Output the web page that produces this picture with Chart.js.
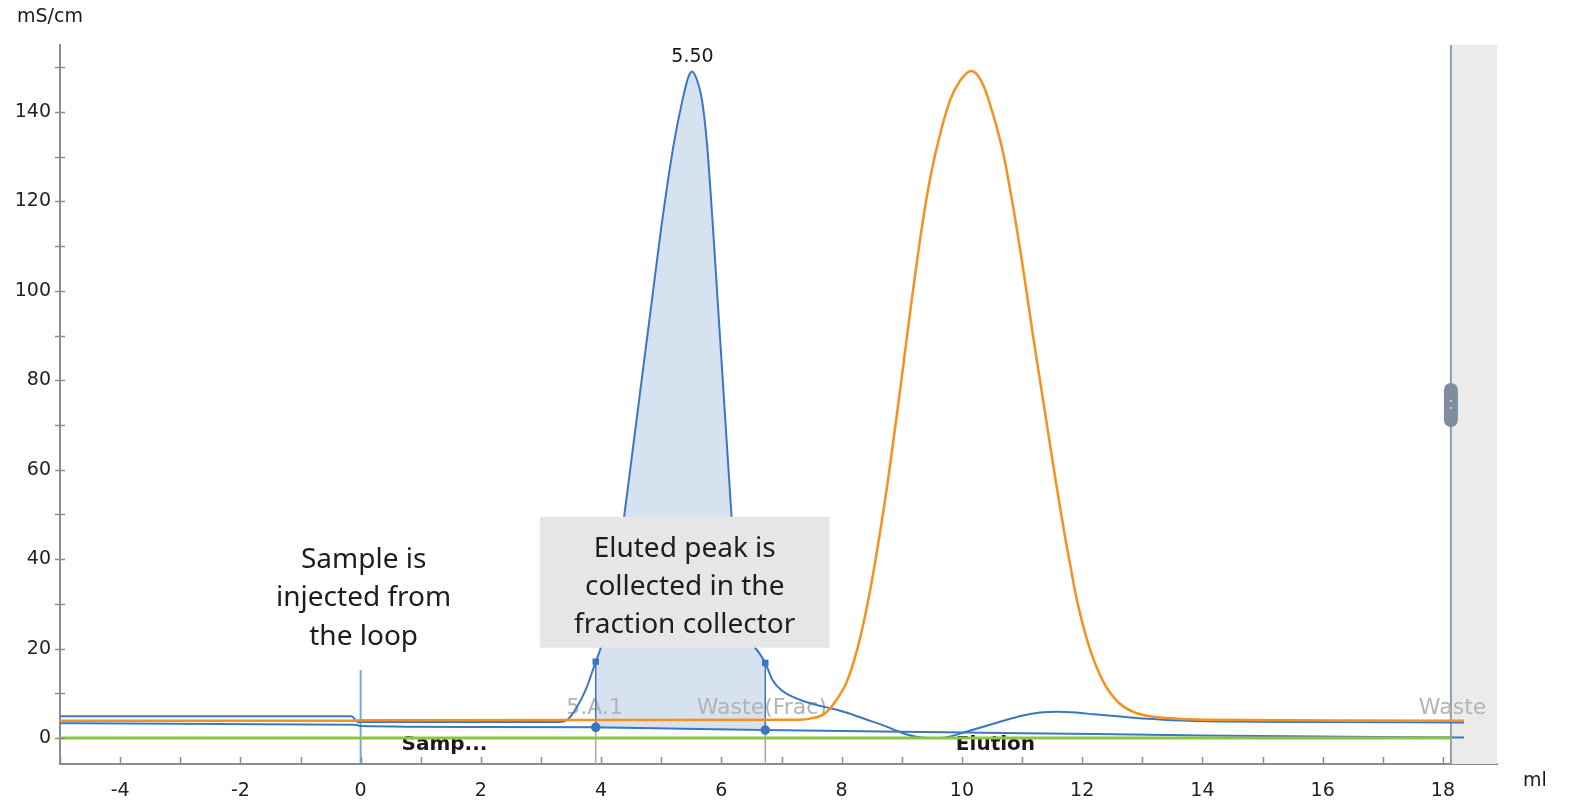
<!DOCTYPE html>
<html>
<head>
<meta charset="utf-8">
<script src="https://cdn.jsdelivr.net/npm/chart.js@4.4.1/dist/chart.umd.min.js"></script>
<style>
  html, body { margin: 0; padding: 0; background: #fff; }
  #wrap { width: 1570px; height: 801px; }
</style>
</head>
<body>
<div id="wrap"><canvas id="myChart" width="1570" height="801"></canvas></div>
<script>
// eixo x em ml, eixo y em mS/cm
const xMin = -5, xMax = 18.9;
const yMin = -5.8, yMax = 155;
const panelStart = 18.15;
const xTicks = [-5, -4, -3, -2, -1, 0, 1, 2, 3, 4, 5, 6, 7, 8, 9, 10, 11, 12, 13, 14, 15, 16, 17, 18];
const yTicks = [0, 10, 20, 30, 40, 50, 60, 70, 80, 90, 100, 110, 120, 130, 140, 150];

// curva azul principal (pico em 5.50 ml)
const blueX = [-5, -0.15, -0.05, 3.3, 3.45, 3.6, 3.75, 3.91, 4.0, 4.2, 4.38, 4.46, 4.64, 4.82, 5.0, 5.21, 5.35, 5.45, 5.51, 5.6, 5.68, 5.76, 5.86, 5.95, 6.04, 6.13, 6.2, 6.28, 6.38, 6.5, 6.63, 6.73, 6.85, 7.0, 7.3, 7.58, 7.9, 8.13, 8.4, 8.68, 9.0, 9.24, 9.5, 9.75, 10.07, 10.4, 10.62, 11.0, 11.3, 11.6, 11.9, 12.2, 12.8, 13.5, 14.25, 16, 18.35];
const blueY = [4.9, 4.9, 3.6, 3.6, 4.2, 7, 11, 17.1, 20.5, 33, 49.3, 57.6, 76.5, 95.3, 114.2, 133, 142.5, 147.8, 149.1, 147, 142.5, 133, 114.2, 95.3, 76.5, 57.6, 44, 33, 26, 21.5, 19, 16.8, 13, 10.7, 8.6, 7.4, 6.4, 5.5, 4.2, 2.9, 1.2, 0.3, 0, 0.2, 1.4, 2.7, 3.6, 5.0, 5.7, 5.9, 5.7, 5.3, 4.6, 4.0, 3.7, 3.6, 3.5];

// curva laranja
const orangeX = [-5, -0.1, 0, 7.3, 7.5, 7.7, 7.88, 8.08, 8.26, 8.42, 8.55, 8.665, 8.77, 8.865, 8.96, 9.05, 9.14, 9.235, 9.335, 9.45, 9.6, 9.8, 9.97, 10.15, 10.3, 10.45, 10.65, 10.79, 10.91, 11.02, 11.125, 11.23, 11.34, 11.45, 11.56, 11.675, 11.8, 11.94, 12.13, 12.36, 12.61, 12.9, 13.3, 14, 18.35];
const orangeY = [3.9, 3.9, 4.0, 4.1, 4.4, 5.3, 7.9, 12.4, 19.9, 29.3, 38.8, 48.2, 57.6, 67, 76.5, 85.9, 95.3, 104.8, 114.2, 123.6, 133, 142.5, 147, 149.2, 147.5, 142.5, 133, 123.6, 114.2, 104.8, 95.3, 85.9, 76.5, 67, 57.6, 48.2, 38.8, 29.3, 19.9, 12.4, 7.9, 5.6, 4.6, 4.1, 3.9];

// linha azul baixa
const lowX = [-5, -0.1, 0, 2, 3.91, 6.73, 9, 11, 14, 18.35];
const lowY = [3.3, 3.0, 2.7, 2.5, 2.4, 1.8, 1.4, 1.1, 0.6, 0.1];

// linha verde
const greenX = [-5, 18.15];
const greenY = [0, 0];

// fracoes
const fracX = [3.91, 6.73];
const fracTop = [17.1, 16.8];
const fracLow = [2.4, 1.8];
const fracNames = ['5.A.1', 'Waste(Frac)', 'Waste'];
const fracNameX = [3.42, 5.59, 17.6];
const fracNameY = 6.6;

// blocos
const phaseNames = ['Samp...', 'Elution'];
const phaseX = [0.68, 9.9];
const phaseY = -1.6;

const injectionX = 0;
const injectionTop = 15.2;
const peakLabel = '5.50';
const peakX = 5.52;

function pts(xs, ys) {
    let out = [];
    for (let i = 0; i < xs.length; i++) out.push({ x: xs[i], y: ys[i] });
    return out;
}

const blueColor = '#3b76c4';
const fillPts = pts(blueX, blueY).filter(p => p.x >= fracX[0] && p.x <= fracX[1]);

let datasets = [
    { data: pts(greenX, greenY), borderColor: '#8cc63f', borderWidth: 3, pointRadius: 0 },
    { data: pts(orangeX, orangeY), borderColor: '#f7901e', borderWidth: 2.5, pointRadius: 0, tension: 0.4 },
    { data: pts(blueX, blueY), borderColor: blueColor, borderWidth: 2, pointRadius: 0, cubicInterpolationMode: 'monotone' },
    { data: pts(lowX, lowY), borderColor: blueColor, borderWidth: 2, pointRadius: 0, cubicInterpolationMode: 'monotone' },
    { data: [{ x: injectionX, y: yMin }, { x: injectionX, y: injectionTop }], borderColor: '#7ba5da', borderWidth: 2, pointRadius: 0 }
];
for (let i = 0; i < fracX.length; i++) {
    datasets.push({
        data: [{ x: fracX[i], y: fracLow[i] }, { x: fracX[i], y: fracTop[i] }],
        borderColor: blueColor, borderWidth: 1.5,
        pointStyle: ['circle', 'rect'], pointRadius: [4, 3.5],
        pointBackgroundColor: blueColor, pointBorderColor: blueColor
    });
    datasets.push({
        data: [{ x: fracX[i], y: yMin }, { x: fracX[i], y: fracLow[i] }],
        borderColor: '#a8a8a8', borderWidth: 1.5, pointRadius: 0
    });
}
// area coletada (desenhada primeiro)
datasets.push({
    data: fillPts, borderWidth: 0, pointRadius: 0, cubicInterpolationMode: 'monotone',
    fill: { value: 2.1 }, backgroundColor: '#d6e2f0'
});
const fillIndex = datasets.length - 1;

const extras = {
    id: 'extras',
    beforeDatasetsDraw(chart) {
        const { ctx, chartArea: a, scales: { x, y } } = chart;
        ctx.save();
        // painel cinza a direita
        const px = x.getPixelForValue(panelStart);
        ctx.fillStyle = '#ebebeb';
        ctx.fillRect(px, a.top, a.right - px, a.bottom - a.top);
        ctx.strokeStyle = '#8e9cab';
        ctx.lineWidth = 2;
        ctx.beginPath(); ctx.moveTo(px - 1, a.top); ctx.lineTo(px - 1, a.bottom); ctx.stroke();

        // blocos
        ctx.fillStyle = '#1a1a1a';
        ctx.font = 'bold 20px "DejaVu Sans"';
        ctx.textBaseline = 'middle';
        ctx.textAlign = 'left';
        for (let i = 0; i < phaseNames.length; i++) {
            ctx.fillText(phaseNames[i], x.getPixelForValue(phaseX[i]), y.getPixelForValue(phaseY));
        }
        ctx.restore();
    },
    afterDatasetDraw(chart, args) {
        if (args.index !== fillIndex) return;
        const { ctx, scales: { x, y } } = chart;
        ctx.save();
        // nomes das fracoes
        ctx.fillStyle = '#b3b3b3';
        ctx.font = '22px "DejaVu Sans"';
        ctx.textBaseline = 'middle';
        ctx.textAlign = 'left';
        for (let i = 0; i < fracNames.length; i++) {
            ctx.fillText(fracNames[i], x.getPixelForValue(fracNameX[i]), y.getPixelForValue(fracNameY));
        }
        ctx.restore();
    },
    afterDraw(chart) {
        const { ctx, chartArea: a, scales: { x, y } } = chart;
        ctx.save();
        ctx.strokeStyle = '#8c8c8c';
        ctx.lineWidth = 1.5;
        // marcas do eixo y (cruzando o eixo)
        y.ticks.forEach(t => {
            const py = Math.round(y.getPixelForValue(t.value)) + 0.5;
            ctx.beginPath(); ctx.moveTo(a.left - 5, py); ctx.lineTo(a.left + 5, py); ctx.stroke();
        });
        // marcas do eixo x
        x.ticks.forEach(t => {
            const px = Math.round(x.getPixelForValue(t.value)) + 0.5;
            ctx.beginPath(); ctx.moveTo(px, a.bottom); ctx.lineTo(px, a.bottom - 7); ctx.stroke();
        });

        // caixa de anotacao
        const bx1 = x.getPixelForValue(2.98), bx2 = x.getPixelForValue(7.8);
        const by1 = y.getPixelForValue(49.5), by2 = y.getPixelForValue(20.2);
        ctx.fillStyle = '#e6e6e8';
        ctx.fillRect(bx1, by1, bx2 - bx1, by2 - by1);

        ctx.fillStyle = '#1e1e1e';
        ctx.font = '28px "Noto Sans"';
        ctx.textAlign = 'center';
        ctx.textBaseline = 'middle';
        const cx = (bx1 + bx2) / 2;
        ['Eluted peak is', 'collected in the', 'fraction collector'].forEach((s, i) => {
            ctx.fillText(s, cx, by1 + 32 + i * 38.3);
        });
        const sx = x.getPixelForValue(0.05);
        ['Sample is', 'injected from', 'the loop'].forEach((s, i) => {
            ctx.fillText(s, sx, 560 + i * 38.5);
        });

        // rotulo do pico
        ctx.font = '19px "DejaVu Sans"';
        ctx.fillStyle = '#1a1a1a';
        ctx.fillText(peakLabel, x.getPixelForValue(peakX), y.getPixelForValue(149.2) - 14);

        // unidades
        ctx.font = '19px "DejaVu Sans"';
        ctx.textAlign = 'left';
        ctx.fillText('mS/cm', 17, 17);
        ctx.fillText('ml', 1523, 781);

        // alca do painel
        const hx = x.getPixelForValue(panelStart) - 1;
        ctx.fillStyle = '#7f8e9e';
        ctx.beginPath();
        ctx.roundRect(hx - 7, 383, 14, 44, 7);
        ctx.fill();
        ctx.fillStyle = '#c0c8d0';
        ctx.fillRect(hx - 1, 400, 2, 2);
        ctx.fillRect(hx - 1, 407, 2, 2);
        ctx.restore();
    }
};

const config = {
    type: 'line',
    data: { datasets: datasets },
    options: {
        responsive: false,
        animation: false,
        layout: { padding: { top: 45, right: 73, left: 0, bottom: 0 } },
        plugins: { legend: { display: false }, tooltip: { enabled: false } },
        scales: {
            x: {
                type: 'linear', min: xMin, max: xMax,
                afterBuildTicks: s => { s.ticks = xTicks.map(v => ({ value: v })); },
                afterFit: s => { s.height = 37; },
                grid: { display: true, drawOnChartArea: false, drawTicks: false },
                border: { color: '#8c8c8c', width: 2 },
                ticks: {
                    autoSkip: false, maxRotation: 0, padding: 16,
                    color: '#222', font: { family: 'DejaVu Sans', size: 19 },
                    callback: v => (v % 2 === 0 ? String(v) : '')
                }
            },
            y: {
                type: 'linear', min: yMin, max: yMax,
                afterBuildTicks: s => { s.ticks = yTicks.map(v => ({ value: v })); },
                afterFit: s => { s.width = 60; },
                grid: { display: true, drawOnChartArea: false, drawTicks: false },
                border: { color: '#8c8c8c', width: 2 },
                ticks: {
                    autoSkip: false, padding: 9,
                    color: '#222', font: { family: 'DejaVu Sans', size: 19 },
                    callback: v => (v % 20 === 0 ? String(v) : '')
                }
            }
        }
    },
    plugins: [extras]
};

let myChart = new Chart(document.getElementById('myChart'), config);
</script>
</body>
</html>
